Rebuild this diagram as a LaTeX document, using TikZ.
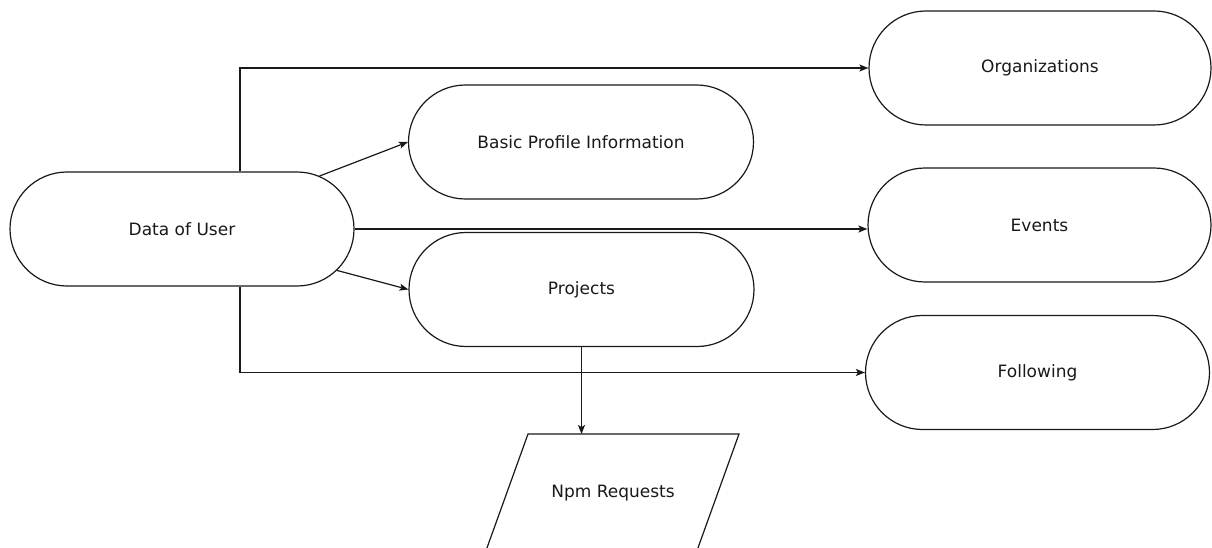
\documentclass[tikz,border=0pt]{standalone}
\usepackage{fontspec}
\setmainfont{DejaVu Sans}
\usetikzlibrary{shapes.misc,arrows.meta}

\begin{document}
\begin{tikzpicture}[x=1pt,y=-1pt,
  pill/.style={rounded rectangle, draw=black!90, line width=1.2pt,
    minimum width=344pt, minimum height=114pt, inner sep=0pt,
    text=black!90, font=\fontsize{17}{20}\selectfont},
  label/.style={inner sep=0pt, text=black!90, font=\fontsize{17}{20}\selectfont},
  link/.style={draw=black!90, line width=1.2pt,
    -{Stealth[length=9pt,width=7pt,inset=2pt]}},
  shapeline/.style={draw=black!90, line width=1.2pt}]
\useasboundingbox (0,0) rectangle (1212,548);
\clip (0,0) rectangle (1212,548);

% main entity and its data groups
\node[pill] (dou) at (182,229) {Data of User};
\node[pill, minimum width=345pt] (bpi) at (581,142) {Basic Profile Information};
\node[pill, minimum width=345pt] (prj) at (581.5,289.5) {Projects};
\node[pill, minimum width=342pt] (org) at (1040,68) {Organizations};
\node[pill, minimum width=343pt] (ev) at (1039.5,225) {Events};
\node[pill, minimum width=344pt] (fol) at (1037.5,372.5) {Following};

% parallelogram for the request data
\coordinate (npmA) at (528,434);
\coordinate (npmB) at (739,434);
\coordinate (npmC) at (696.5,552);
\coordinate (npmD) at (485.5,552);
\draw[shapeline] (npmA) -- (npmB) -- (npmC) -- (npmD) -- cycle;
\node[label] (npm) at (613,493) {Npm Requests};

% connectors
\coordinate (vx) at (240,0);
\draw[link] (dou.north -| vx) |- (org.west);
\draw[link] (dou.south -| vx) |- (fol.west);
\draw[link] (dou) -- (bpi.west);
\draw[link] (dou) -- (prj.west);
\draw[link] (dou.east) -- (dou.east -| ev.west);
\draw[link] (prj.south) -- (prj.south |- npmA);
\end{tikzpicture}
\end{document}
